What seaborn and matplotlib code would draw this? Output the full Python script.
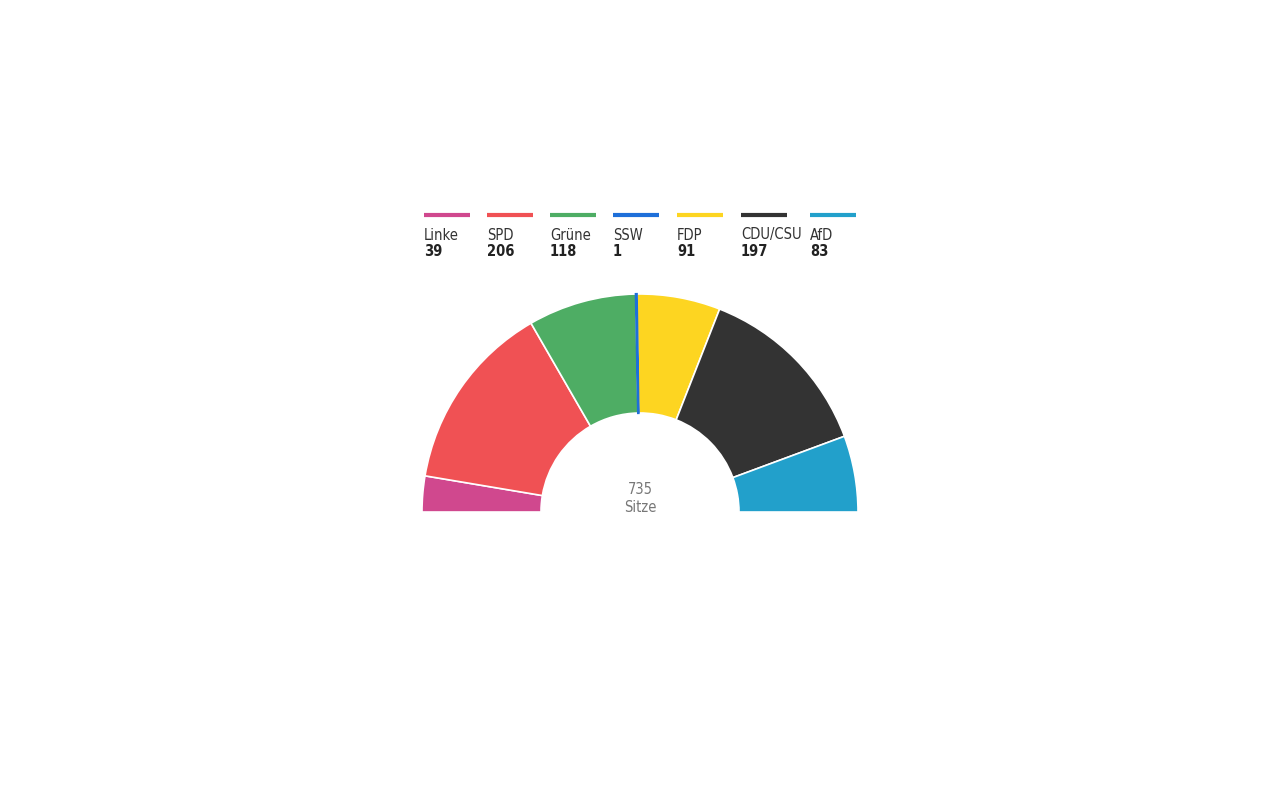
import matplotlib
matplotlib.use("Agg")
import matplotlib.pyplot as plt
from matplotlib.patches import Wedge
import seaborn as sns

# Sitzverteilung Bundestag
parties = ["Linke", "SPD", "Grüne", "SSW", "FDP", "CDU/CSU", "AfD"]
seats = [39, 206, 118, 1, 91, 197, 83]
colors = ["#d0488e", "#f05154", "#4ead64", "#1e6fd9", "#fdd521", "#333333", "#22a0cb"]
total = sum(seats)

sns.set_theme(style="white")
plt.rcParams["font.family"] = ["DejaVu Sans"]
plt.rcParams["font.stretch"] = "condensed"

fig = plt.figure(figsize=(12.8, 8), dpi=100)
ax = fig.add_axes([0, 0, 1, 1])

# half donut: add an invisible wedge for the lower half
outer_r = 218
inner_r = 99
center = (640, 288)
wedges, _ = ax.pie(seats + [total], colors=colors + ["none"], startangle=180,
                   counterclock=False, center=center, radius=outer_r, frame=True,
                   wedgeprops=dict(width=outer_r - inner_r, edgecolor="white", linewidth=1.2))
wedges[-1].set_edgecolor("none")

# the single SSW seat is very thin, give it a visible outline (clipped to the ring)
ring = Wedge(center, outer_r, 0, 180, width=outer_r - inner_r, transform=ax.transData)
wedges[3].set_edgecolor(colors[3])
wedges[3].set_linewidth(1.6)
wedges[3].set_zorder(5)
wedges[3].set_clip_path(ring)

ax.text(640, 310, str(total), ha="center", va="center", fontsize=10.5, color="#777777")
ax.text(640, 293, "Sitze", ha="center", va="center", fontsize=10.5, color="#777777")

# legend on top
legend_x = [424, 487, 550, 613, 677, 741, 810]
for x, p, s, c in zip(legend_x, parties, seats, colors):
    ax.plot([x, x + 46], [585, 585], color=c, lw=3, solid_capstyle="butt")
    ax.text(x, 565, p, ha="left", va="center", fontsize=10.5, color="#333333")
    ax.text(x, 548, str(s), ha="left", va="center", fontsize=10.5, color="#222222",
            fontweight="bold")

ax.set_xlim(0, 1280)
ax.set_ylim(0, 800)
ax.set_aspect("equal")
ax.axis("off")

fig.savefig("out.png", dpi=100, facecolor="white")
